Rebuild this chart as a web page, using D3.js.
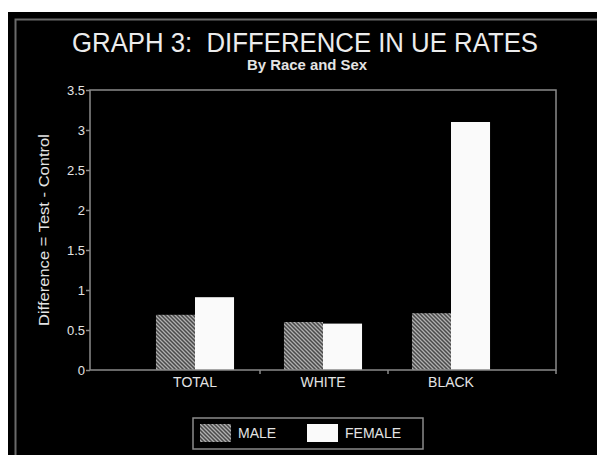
<!DOCTYPE html>
<html><head><meta charset="utf-8">
<script src="https://cdn.jsdelivr.net/npm/d3@7"></script>
<style>html,body{margin:0;padding:0;background:#fff;}svg{display:block;}</style>
</head><body>
<script>
const categories = ["TOTAL", "WHITE", "BLACK"];
const seriesNames = ["MALE", "FEMALE"];
const maleValues = [0.69, 0.60, 0.71];
const femaleValues = [0.91, 0.58, 3.10];
const yTicks = [0, 0.5, 1, 1.5, 2, 2.5, 3, 3.5];
const yTickLabels = ["0", "0.5", "1", "1.5", "2", "2.5", "3", "3.5"];
const titleText = "GRAPH 3:  DIFFERENCE IN UE RATES";
const subtitleText = "By Race and Sex";
const yLabel = "Difference = Test - Control";

(function () {
const W = 597, H = 455;
const svg = d3.select("body").append("svg").attr("width", W).attr("height", H);
const defs = svg.append("defs");
const pat = defs.append("pattern").attr("id", "hatch").attr("patternUnits", "userSpaceOnUse")
  .attr("width", 4).attr("height", 4);
pat.append("rect").attr("width", 4).attr("height", 4).attr("fill", "#4a4a4a");
pat.append("path").attr("d", "M-1,-1 L5,5 M-1,3 L1,5 M3,-1 L5,1")
  .attr("stroke", "#b0b0b0").attr("stroke-width", 1.3);

svg.append("rect").attr("x", 8).attr("y", 12).attr("width", W - 8).attr("height", H - 12).attr("fill", "#000");
svg.append("path").attr("d", `M15.5,${H} L15.5,19.5 L${W},19.5`).attr("fill", "none")
  .attr("stroke", "#6a6a6a").attr("stroke-width", 2);

const pLeft = 90, pRight = 556, pTop = 90, pBottom = 370;
const y = d3.scaleLinear().domain([0, 3.5]).range([pBottom, pTop]);
const x = d3.scaleBand().domain(categories).range([131, 515]).paddingInner(0.39).paddingOuter(0.195);
const x1 = d3.scaleBand().domain(seriesNames).range([0, x.bandwidth()]);

const font = "'Liberation Sans', Arial, sans-serif";
const txt = "#e4e4e4";
svg.append("text").attr("x", 305).attr("y", 52).attr("text-anchor", "middle")
  .attr("font-family", font).attr("font-size", 27).attr("fill", "#ececec")
  .attr("textLength", 466).attr("lengthAdjust", "spacingAndGlyphs")
  .style("white-space", "pre").text(titleText);
svg.append("text").attr("x", 307).attr("y", 70).attr("text-anchor", "middle")
  .attr("font-family", font).attr("font-size", 14).attr("font-weight", "bold").attr("fill", txt)
  .attr("textLength", 120).attr("lengthAdjust", "spacingAndGlyphs")
  .text(subtitleText);

const g = svg.append("g");
categories.forEach((c, i) => {
  [[maleValues[i], "MALE"], [femaleValues[i], "FEMALE"]].forEach(([v, s]) => {
    g.append("rect").attr("x", x(c) + x1(s)).attr("y", y(v))
      .attr("width", x1.bandwidth()).attr("height", y(0) - y(v))
      .attr("fill", s === "MALE" ? "url(#hatch)" : "#fafafa");
  });
});

svg.append("rect").attr("x", pLeft).attr("y", pTop).attr("width", pRight - pLeft).attr("height", pBottom - pTop)
  .attr("fill", "none").attr("stroke", "#8a8a8a").attr("stroke-width", 1.5);

const yAxis = d3.axisLeft(y).tickValues(yTicks).tickFormat((d, i) => yTickLabels[i]).tickSize(4).tickPadding(1);
const ya = svg.append("g").attr("transform", `translate(${pLeft},0)`).call(yAxis);
ya.select(".domain").remove();
ya.selectAll("line").attr("stroke", "#8a8a8a").attr("stroke-width", 1.5);
ya.selectAll("text").attr("fill", txt).attr("font-family", font).attr("font-size", 13);

const xa = svg.append("g").attr("transform", `translate(0,${pBottom})`)
  .call(d3.axisBottom(x).tickSize(0).tickPadding(7));
xa.select(".domain").remove();
xa.selectAll("text").attr("fill", txt).attr("font-family", font).attr("font-size", 14);
const seps = [x.range()[0] + x.step() * 1 + 1, x.range()[0] + x.step() * 2 + 1, pRight];
svg.selectAll(".sep").data(seps).enter().append("line")
  .attr("x1", d => d).attr("x2", d => d).attr("y1", pBottom).attr("y2", pBottom + 4)
  .attr("stroke", "#8a8a8a").attr("stroke-width", 1.5);

svg.append("text").attr("transform", "translate(49,230) rotate(-90)").attr("text-anchor", "middle")
  .attr("font-family", font).attr("font-size", 14).attr("fill", txt)
  .attr("textLength", 192).attr("lengthAdjust", "spacingAndGlyphs")
  .text(yLabel);

svg.append("rect").attr("x", 193).attr("y", 418).attr("width", 230).attr("height", 31)
  .attr("fill", "none").attr("stroke", "#8a8a8a").attr("stroke-width", 1.5);
const legendX = [200, 307];
seriesNames.forEach((s, i) => {
  svg.append("rect").attr("x", legendX[i]).attr("y", 424).attr("width", 31).attr("height", 18)
    .attr("fill", i === 0 ? "url(#hatch)" : "#fafafa");
  svg.append("text").attr("x", legendX[i] + 38).attr("y", 438)
    .attr("font-family", font).attr("font-size", 14).attr("fill", txt)
    .text(s);
});
})();
</script>
</body></html>
